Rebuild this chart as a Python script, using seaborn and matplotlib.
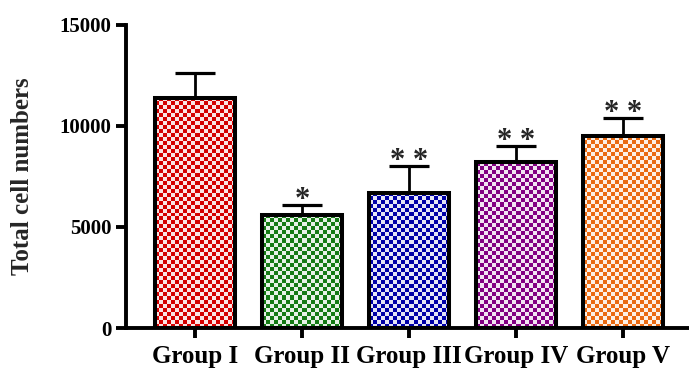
import numpy as np
import pandas as pd
import matplotlib
matplotlib.use("Agg")
import matplotlib.pyplot as plt
from matplotlib.colors import ListedColormap, to_rgb
import seaborn as sns

# Data
groups = ["Group I", "Group II", "Group III", "Group IV", "Group V"]
means = [11400, 5600, 6700, 8200, 9500]
sd_upper = [1200, 500, 1300, 800, 900]
significance = ["", "*", "* *", "* *", "* *"]
bar_colors = ["#d40000", "#157a15", "#0000a8", "#820082", "#ea6a12"]
y_ticks = [0, 5000, 10000, 15000]

sns.set_theme(style="ticks")
plt.rcParams["font.family"] = ["Liberation Serif", "DejaVu Serif"]
plt.rcParams["font.weight"] = "bold"

df = pd.DataFrame({"group": groups, "mean": means})

fig = plt.figure(figsize=(6.89, 3.71), dpi=100)
ax = fig.add_axes([126 / 689, 1 - 328 / 371, 563 / 689, 303 / 371])

sns.barplot(data=df, x="group", y="mean", hue="group", palette=bar_colors,
            legend=False, width=0.75, errorbar=None, ax=ax,
            edgecolor="black", linewidth=2.9, zorder=3)

ax.set_xlim(-0.645, 4.615)
ax.set_ylim(0, 15000)

# Checkerboard fill inside each bar, clipped to the bar outline
cell_px = 4.0
for patch, col in zip(ax.patches, bar_colors):
    x0, y0 = patch.get_x(), patch.get_y()
    w, h = patch.get_width(), patch.get_height()
    (px0, py0), (px1, py1) = ax.transData.transform([(x0, y0), (x0 + w, y0 + h)])
    nx = max(1, int(round(abs(px1 - px0) / cell_px)))
    ny = max(1, int(round(abs(py1 - py0) / cell_px)))
    board = np.indices((ny, nx)).sum(axis=0) % 2
    dark = np.array(to_rgb(col))
    light = 0.1 * dark + 0.9 * np.ones(3)
    img = ax.imshow(board, cmap=ListedColormap([dark, light]), origin="lower",
                    extent=(x0, x0 + w, y0, y0 + h), interpolation="nearest",
                    aspect="auto", zorder=2)
    img.set_clip_path(patch)
    patch.set_facecolor("none")

ax.set_xlim(-0.645, 4.615)
ax.set_ylim(0, 15000)

# Upper error bars
ax.errorbar(range(len(groups)), means, yerr=[np.zeros(len(means)), sd_upper],
            fmt="none", ecolor="black", elinewidth=2.0, capsize=14.5,
            capthick=2.3, zorder=1)

# Significance marks above the caps
for i, (m, e, s) in enumerate(zip(means, sd_upper, significance)):
    if s:
        ax.annotate(s, xy=(i, m + e), xytext=(0, -2), textcoords="offset points",
                    ha="center", va="baseline", fontsize=22, fontweight="bold",
                    annotation_clip=False)

ax.set_yticks(y_ticks)
ax.set_yticklabels([str(t) for t in y_ticks], fontsize=15, fontweight="bold")
ax.set_xticks(range(len(groups)))
ax.set_xticklabels(groups, fontsize=18, fontweight="bold")
ax.set_xlabel("")
ax.set_ylabel("Total cell numbers", fontsize=18, fontweight="bold")
ax.yaxis.set_label_coords(-0.163, 0.5)

sns.despine(ax=ax)
for side in ("left", "bottom"):
    ax.spines[side].set_linewidth(2.8)
    ax.spines[side].set_color("black")
ax.tick_params(axis="both", colors="black", width=2.8, length=7.5, direction="out")
ax.tick_params(axis="y", pad=3)
ax.tick_params(axis="x", pad=5)

fig.savefig("out.png", dpi=100)
